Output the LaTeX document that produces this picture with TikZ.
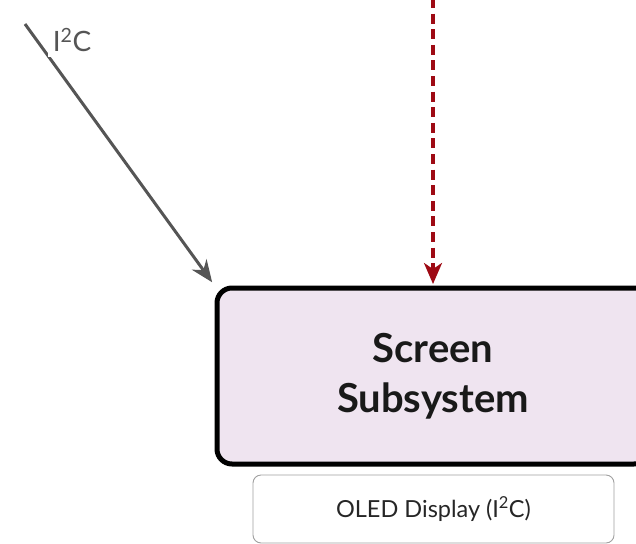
\documentclass[tikz,border=0pt]{standalone}
\usepackage{fontspec}
\setmainfont{Lato}
\usetikzlibrary{arrows.meta}
\definecolor{sysfill}{HTML}{EFE4F0}
\definecolor{linkgray}{HTML}{555555}
\definecolor{ctrlred}{HTML}{9E0A14}
\definecolor{subborder}{HTML}{A0A0A0}
\tikzset{
  sysbox/.style={draw=black, line width=5pt, fill=sysfill, rounded corners=15pt,
    minimum width=432pt, minimum height=176pt, align=center,
    font=\fontsize{40}{50}\selectfont\bfseries, text=black!90},
  subbox/.style={draw=subborder, line width=0.9pt, fill=white, rounded corners=8pt,
    minimum width=361pt, minimum height=68pt, font=\fontsize{23.5}{28}\selectfont, text=black!85},
  graylink/.style={draw=linkgray, line width=3pt, -{Stealth[length=22pt,width=18pt,inset=7pt]}},
  redlink/.style={draw=ctrlred, line width=3.2pt, dash pattern=on 10pt off 5.6pt,
    -{Stealth[length=21pt,width=18pt,inset=6pt]}},
  linklabel/.style={fill=white, text=linkgray, font=\fontsize{28}{32}\selectfont, inner sep=5pt}
}
\begin{document}
\begin{tikzpicture}[x=1pt,y=-1pt]
\useasboundingbox (0,0) rectangle (636,543);
\node[sysbox] (screen) at (433,376) {Screen\\Subsystem};
\node[subbox] (oled) at (433.5,509) {OLED Display (I\textsuperscript{2}C)};
\coordinate (gsrc) at (25,24);
\coordinate (rsrc) at (433,-2);
\draw[graylink, shorten >=4pt] (gsrc) -- (screen.north west);
\draw[redlink, shorten >=1.5pt] (rsrc) -- (screen.north);
\node[linklabel] (i2c) at (72,40) {I\textsuperscript{2}C};
\end{tikzpicture}
\end{document}
